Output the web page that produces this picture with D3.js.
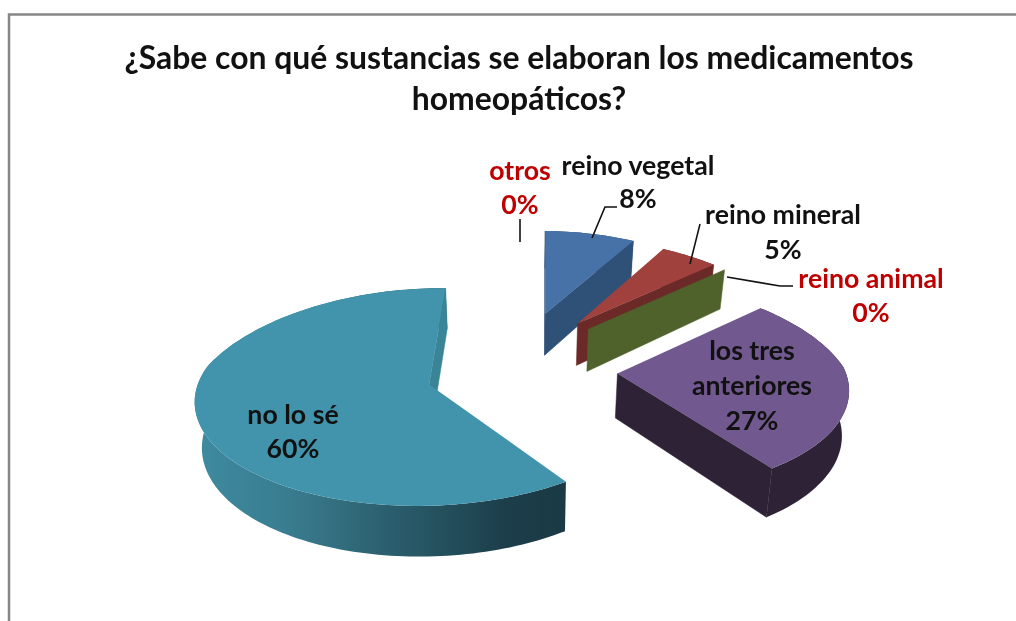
<!DOCTYPE html>
<html>
<head>
<meta charset="utf-8">
<script src="https://cdn.jsdelivr.net/npm/d3@7"></script>
<style>
  html, body { margin: 0; padding: 0; background: #fff; }
  svg { display: block; filter: blur(0.5px); }
  text { font-family: Lato, "Open Sans", sans-serif; font-weight: 700; }
</style>
</head>
<body>
<div id="chart"></div>
<script>
var titleLines = ['¿Sabe con qué sustancias se elaboran los medicamentos', 'homeopáticos?']
var categories = ['reino vegetal', 'reino mineral', 'reino animal', 'los tres anteriores', 'no lo sé', 'otros']
var values = [8, 5, 0, 27, 60, 0]

var width = 1016
var height = 621
var firstSliceDeg = 1

// Slice look, in the same order as categories
var topColors = ['#4672a8', '#a0413d', '#4f622b', '#71588f', '#4194ac', '#4194ac']
var sideColors = ['#2f5178', '#6b2a27', '#4f622b', '#2e2237', '#3a8498', '#3a8498']

// Projection of the tilted pie disc
var center = { x: 522, y: 367 }
var radiusX = 227
var radiusY = 103.4
var perspective = 0.1134
var perspectiveBackX = 0.17 // the back of the disc narrows faster than it rises
var explode = 0.42
var explodeTilt = 1.35
var depth = 44
var bottomShrink = 0.978

var svg = d3.select('#chart').append('svg').attr('width', width).attr('height', height)
var defs = svg.append('defs')

var wallGradient = defs.append('linearGradient')
  .attr('id', 'wall-teal')
  .attr('gradientUnits', 'userSpaceOnUse')
  .attr('x1', 200).attr('x2', 560).attr('y1', 0).attr('y2', 0)
wallGradient.selectAll('stop')
  .data([[0, '#3e8a9f'], [0.25, '#397c8f'], [0.55, '#2a5c6b'], [0.85, '#1c3e4a'], [1, '#1a3a45']])
  .enter().append('stop')
  .attr('offset', function (d) { return d[0] })
  .attr('stop-color', function (d) { return d[1] })

// Chart frame: only the top and left edges show in the picture
svg.append('path')
  .attr('d', d3.line()([[9, height], [9, 14.5], [width, 14.5]]))
  .attr('fill', 'none')
  .attr('stroke', '#868686')
  .attr('stroke-width', 2.5)

function project (u, v, low) {
  var s = 1 / (1 + perspective * v)
  var sx = v > 0 ? 1 / (1 + perspectiveBackX * v) : s
  var x = center.x + radiusX * u * sx
  var y = center.y - radiusY * v * s
  if (low) {
    x = center.x + (x - center.x) * bottomShrink
    y += depth * s
  }
  return [x, y]
}

var pie = d3.pie().sort(null)
  .startAngle(firstSliceDeg * Math.PI / 180)
  .endAngle(firstSliceDeg * Math.PI / 180 + 2 * Math.PI)
var slices = pie(values)

function geometry (d) {
  var mid = (d.startAngle + d.endAngle) / 2
  var ou = explode * Math.sin(mid)
  var ov = explode * explodeTilt * Math.cos(mid)
  var steps = Math.max(2, Math.ceil((d.endAngle - d.startAngle) * 40))
  var rim = d3.range(steps + 1).map(function (i) {
    var a = d.startAngle + (d.endAngle - d.startAngle) * i / steps
    return [ou + Math.sin(a), ov + Math.cos(a)]
  })
  return { apex: [ou, ov], rim: rim }
}

function up (p) { return project(p[0], p[1], false) }
function down (p) { return project(p[0], p[1], true) }

var leaderLine = d3.line()
var polygon = d3.line().curve(d3.curveLinearClosed)

function drawSlice (d, i) {
  var geo = geometry(d)
  var g = svg.append('g').attr('class', 'slice slice-' + i)
  var side = sideColors[i]
  var empty = d.endAngle === d.startAngle

  // Outer wall first, then the cut faces that look at us, then the top
  if (!empty) {
    var wall = geo.rim.map(up).concat(geo.rim.slice().reverse().map(down))
    g.append('path')
      .attr('d', polygon(wall))
      .attr('fill', categories[i] === 'no lo sé' ? 'url(#wall-teal)' : side)
  }
  ;[[geo.rim[0], 1], [geo.rim[geo.rim.length - 1], -1]].forEach(function (cut) {
    var quad = [up(geo.apex), up(cut[0]), down(cut[0]), down(geo.apex)]
    if (d3.polygonArea(quad) * cut[1] > 0) {
      g.append('path')
        .attr('d', polygon(quad))
        .attr('fill', side).attr('stroke', side).attr('stroke-width', 0.5)
    }
  })
  if (!empty) {
    g.append('path')
      .attr('d', polygon([up(geo.apex)].concat(geo.rim.map(up))))
      .attr('fill', topColors[i])
  }
}

// Painter's order, back of the pie first
;[0, 1, 2, 3, 4].forEach(function (i) { drawSlice(slices[i], i) })

// Leader lines
var leaders = [
  [[520, 219], [520, 242]],
  [[592, 238], [605, 207], [617, 207]],
  [[690, 264], [700, 224]],
  [[727, 277], [780, 286], [793, 286]]
]
svg.selectAll('path.leader').data(leaders).enter().append('path')
  .attr('class', 'leader')
  .attr('d', function (d) { return leaderLine(d) })
  .attr('fill', 'none')
  .attr('stroke', '#111')
  .attr('stroke-width', 1.6)

// Title
svg.selectAll('text.title').data(titleLines).enter().append('text')
  .attr('class', 'title')
  .attr('x', 519)
  .attr('y', function (d, i) { return 69 + i * 41 })
  .attr('text-anchor', 'middle')
  .attr('font-size', 31.9)
  .attr('fill', '#111')
  .text(function (d) { return d })

// Data labels
function pct (i) { return values[i] + '%' }
var labels = [
  { x: 638, y: 175, text: categories[0], fill: '#111' },
  { x: 638, y: 208, text: pct(0), fill: '#111' },
  { x: 783, y: 224, text: categories[1], fill: '#111' },
  { x: 783, y: 259, text: pct(1), fill: '#111' },
  { x: 871, y: 288, text: categories[2], fill: '#c00000' },
  { x: 871, y: 322, text: pct(2), fill: '#c00000' },
  { x: 752, y: 360, text: 'los tres', fill: '#111' },
  { x: 752, y: 395, text: 'anteriores', fill: '#111' },
  { x: 752, y: 430, text: pct(3), fill: '#111' },
  { x: 293, y: 424, text: categories[4], fill: '#111' },
  { x: 293, y: 458, text: pct(4), fill: '#111' },
  { x: 520, y: 180, text: categories[5], fill: '#c00000' },
  { x: 520, y: 214, text: pct(5), fill: '#c00000' }
]
svg.selectAll('text.label').data(labels).enter().append('text')
  .attr('class', 'label')
  .attr('x', function (d) { return d.x })
  .attr('y', function (d) { return d.y })
  .attr('text-anchor', 'middle')
  .attr('font-size', 26.7)
  .attr('fill', function (d) { return d.fill })
  .text(function (d) { return d.text })
</script>
</body>
</html>
